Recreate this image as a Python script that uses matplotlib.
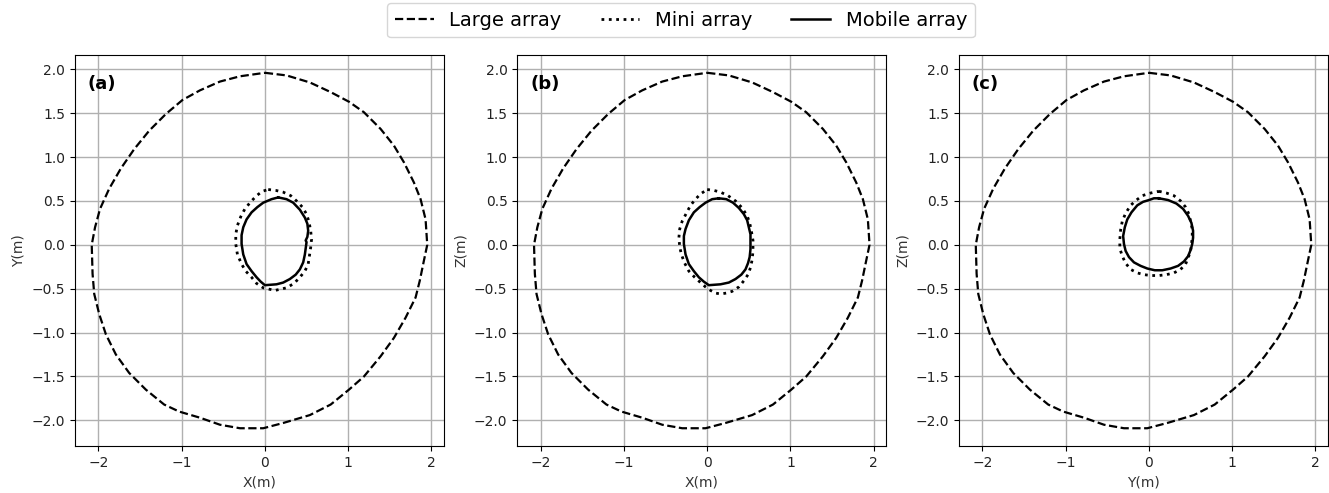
import numpy as np
import matplotlib.pyplot as plt

# outer boundary of the large array (same projection in every view)
large_x = [0.00, 0.26, 0.54, 0.79, 1.01, 1.19, 1.39, 1.55, 1.67, 1.79, 1.87, 1.93,
           1.95, 1.91, 1.86, 1.81, 1.69, 1.55, 1.39, 1.19, 1.01, 0.79, 0.54, 0.22,
           -0.02, -0.30, -0.54, -0.78, -1.03, -1.21, -1.43, -1.63, -1.79, -1.91, -1.99,
           -2.05, -2.07, -2.08, -2.04, -1.98, -1.87, -1.73, -1.57, -1.39, -1.19, -0.99,
           -0.78, -0.54, -0.30]
large_y = [1.96, 1.93, 1.85, 1.74, 1.63, 1.51, 1.32, 1.13, 0.94, 0.71, 0.52, 0.29,
           0.00, -0.18, -0.41, -0.60, -0.83, -1.06, -1.27, -1.50, -1.65, -1.82, -1.94, -2.03,
           -2.09, -2.09, -2.05, -1.97, -1.90, -1.82, -1.65, -1.46, -1.25, -1.02, -0.79,
           -0.56, -0.33, 0.00, 0.20, 0.41, 0.64, 0.87, 1.09, 1.30, 1.49, 1.65,
           1.76, 1.86, 1.92]

# (a) X-Y plane
mini_a_x = [0.04, 0.13, 0.22, 0.31, 0.38, 0.45, 0.50, 0.53, 0.55, 0.56, 0.55, 0.52,
            0.48, 0.42, 0.35, 0.26, 0.12, -0.02, -0.10, -0.16, -0.23, -0.28, -0.33,
            -0.35, -0.35, -0.33, -0.29, -0.24, -0.17, -0.10, -0.03]
mini_a_y = [0.63, 0.62, 0.60, 0.56, 0.50, 0.43, 0.35, 0.26, 0.16, 0.06, -0.03, -0.22,
            -0.30, -0.37, -0.44, -0.49, -0.52, -0.49, -0.44, -0.37, -0.30, -0.22, -0.11,
            0.01, 0.12, 0.22, 0.32, 0.41, 0.49, 0.56, 0.61]
mobile_a_x = [0.16, 0.26, 0.34, 0.42, 0.48, 0.51, 0.52, 0.51, 0.49, 0.50, 0.49, 0.48,
              0.46, 0.42, 0.37, 0.30, 0.22, 0.14, 0.00, -0.05, -0.10, -0.16, -0.22,
              -0.26, -0.28, -0.28, -0.26, -0.22, -0.16, -0.09, -0.02, 0.08]
mobile_a_y = [0.54, 0.52, 0.48, 0.40, 0.31, 0.24, 0.16, 0.09, 0.05, 0.03, -0.04, -0.11,
              -0.20, -0.28, -0.34, -0.39, -0.43, -0.45, -0.46, -0.42, -0.37, -0.30, -0.22,
              -0.11, 0.01, 0.11, 0.20, 0.29, 0.37, 0.43, 0.48, 0.52]

# (b) X-Z plane
mini_b_x = [0.00, 0.08, 0.16, 0.25, 0.34, 0.42, 0.48, 0.51, 0.53, 0.55, 0.55, 0.54,
            0.52, 0.49, 0.44, 0.38, 0.30, 0.23, 0.16, 0.10, 0.04, -0.02, -0.08, -0.15,
            -0.22, -0.27, -0.31, -0.33, -0.34, -0.33, -0.30, -0.25, -0.20, -0.14, -0.08]
mini_b_y = [0.63, 0.62, 0.60, 0.56, 0.50, 0.42, 0.33, 0.25, 0.16, 0.05, -0.07, -0.17,
            -0.26, -0.34, -0.41, -0.48, -0.53, -0.55, -0.56, -0.55, -0.52, -0.48, -0.43,
            -0.37, -0.30, -0.21, -0.11, -0.02, 0.08, 0.18, 0.27, 0.36, 0.45, 0.52, 0.58]
mobile_b_x = [0.14, 0.23, 0.31, 0.38, 0.44, 0.48, 0.50, 0.52, 0.52, 0.52, 0.51, 0.49,
              0.46, 0.41, 0.34, 0.26, 0.16, 0.02, -0.04, -0.10, -0.16, -0.22, -0.26,
              -0.28, -0.28, -0.26, -0.22, -0.16, -0.09, -0.02, 0.06]
mobile_b_y = [0.53, 0.52, 0.48, 0.42, 0.35, 0.28, 0.20, 0.12, 0.05, -0.05, -0.14, -0.21,
              -0.28, -0.34, -0.39, -0.43, -0.45, -0.46, -0.42, -0.37, -0.30, -0.22, -0.11,
              0.01, 0.10, 0.18, 0.28, 0.37, 0.43, 0.48, 0.52]

# (c) Y-Z plane
mini_c_x = [0.12, 0.21, 0.30, 0.38, 0.44, 0.48, 0.50, 0.52, 0.52, 0.51, 0.50, 0.47,
            0.44, 0.38, 0.30, 0.21, 0.12, 0.03, -0.06, -0.14, -0.22, -0.28, -0.32, -0.35,
            -0.35, -0.34, -0.32, -0.28, -0.22, -0.15, -0.08, 0.02]
mini_c_y = [0.61, 0.59, 0.56, 0.50, 0.43, 0.35, 0.27, 0.18, 0.08, 0.00, -0.07, -0.15,
            -0.22, -0.28, -0.32, -0.34, -0.35, -0.35, -0.34, -0.32, -0.28, -0.21, -0.13,
            -0.04, 0.06, 0.17, 0.27, 0.36, 0.45, 0.51, 0.56, 0.59]
mobile_c_x = [0.12, 0.23, 0.33, 0.41, 0.47, 0.51, 0.53, 0.53, 0.52, 0.50, 0.47, 0.42,
              0.35, 0.26, 0.16, 0.07, -0.02, -0.10, -0.18, -0.24, -0.28, -0.30, -0.31,
              -0.29, -0.26, -0.21, -0.14, -0.07, 0.00, 0.06]
mobile_c_y = [0.53, 0.51, 0.47, 0.41, 0.33, 0.25, 0.16, 0.08, 0.01, -0.06, -0.13, -0.19,
              -0.24, -0.27, -0.29, -0.29, -0.27, -0.24, -0.20, -0.14, -0.07, 0.01, 0.10,
              0.20, 0.29, 0.37, 0.45, 0.49, 0.51, 0.53]

panels = [
    ('(a)', 'X(m)', 'Y(m)', mini_a_x, mini_a_y, mobile_a_x, mobile_a_y),
    ('(b)', 'X(m)', 'Z(m)', mini_b_x, mini_b_y, mobile_b_x, mobile_b_y),
    ('(c)', 'Y(m)', 'Z(m)', mini_c_x, mini_c_y, mobile_c_x, mobile_c_y),
]


def closed(xs, ys):
    return list(xs) + [xs[0]], list(ys) + [ys[0]]


fig = plt.figure(figsize=(13.29, 4.93), dpi=100)
lefts = [0.0564, 0.3892, 0.7216]

for left, (tag, xl, yl, mx, my, bx, by) in zip(lefts, panels):
    ax = fig.add_axes([left, 0.0953, 0.2777, 0.7931])
    lx, ly = closed(large_x, large_y)
    ax.plot(lx, ly, '--', color='black', lw=1.6, label='Large array')
    px, py = closed(mx, my)
    ax.plot(px, py, ':', color='black', lw=2.0, label='Mini array')
    qx, qy = closed(bx, by)
    ax.plot(qx, qy, '-', color='black', lw=1.8, label='Mobile array')
    ax.set_xticks([-2, -1, 0, 1, 2])
    ax.set_yticks([-2.0, -1.5, -1.0, -0.5, 0.0, 0.5, 1.0, 1.5, 2.0])
    ax.grid(True, color='#b0b0b0', lw=1.0)
    ax.set_xlabel(xl, color='#333333')
    ax.set_ylabel(yl, color='#333333')
    ax.tick_params(labelsize=10, labelcolor='#222222')
    ax.text(0.035, 0.925, tag, transform=ax.transAxes, fontsize=13,
            fontweight='bold', va='center', ha='left')

handles, labels = ax.get_legend_handles_labels()
fig.legend(handles, labels, loc='upper center', ncol=3, fontsize=14,
           bbox_to_anchor=(0.5125, 1.0), borderaxespad=0.15, frameon=True)

fig.savefig('out.png', dpi=100)
